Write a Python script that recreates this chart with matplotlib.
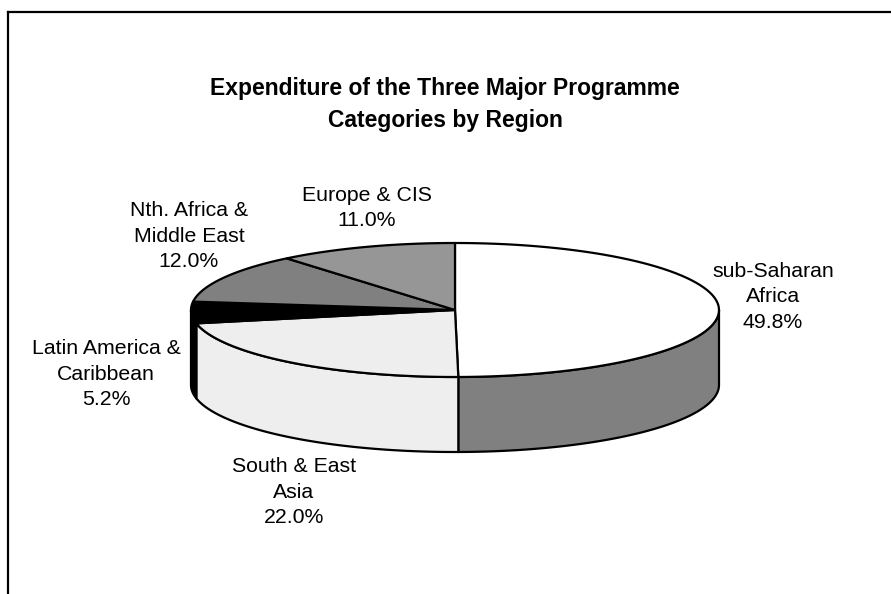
import numpy as np
import matplotlib.pyplot as plt
from matplotlib.patches import Polygon

plt.rcParams['font.family'] = ['Liberation Sans', 'DejaVu Sans']

regions = ['sub-Saharan\nAfrica', 'South & East\nAsia', 'Latin America &\nCaribbean',
           'Nth. Africa &\nMiddle East', 'Europe & CIS']
shares = [49.8, 22.0, 5.2, 12.0, 11.0]
top_colors = ['#ffffff', '#eeeeee', '#000000', '#808080', '#969696']
side_colors = ['#808080', '#eeeeee', '#000000', '#808080', '#969696']
# label anchor points in pixels
label_xy = [(773, 297), (294, 492), (106, 374), (189, 236), (367, 208)]

W, H = 891, 594
cx, cy = 455, 310
rx, ry = 264, 67
depth = 75


def arc(t0, t1, n=80):
    t = np.radians(np.linspace(t0, t1, n))
    return cx + rx * np.cos(t), cy - ry * np.sin(t)


fig = plt.figure(figsize=(W / 100, H / 100), dpi=100)
ax = fig.add_axes([0, 0, 1, 1])
ax.set_xlim(0, W)
ax.set_ylim(H, 0)
ax.axis('off')

# chart frame
ax.plot([8, W + 5], [12, 12], color='black', lw=1.6, clip_on=False)
ax.plot([8, 8], [12, H + 5], color='black', lw=1.6, clip_on=False)

total = sum(shares)
bounds = np.cumsum([0] + shares) / total * 360.0
spans = [(90 - bounds[i + 1], 90 - bounds[i]) for i in range(len(shares))]

# front walls of the disc (lower half only)
for (t1, t2), col in zip(spans, side_colors):
    for m in (-1, 0, 1):
        lo = max(t1, -180 + 360 * m)
        hi = min(t2, 360 * m)
        if hi <= lo:
            continue
        xs, ys = arc(lo, hi)
        px = np.concatenate([xs, xs[::-1]])
        py = np.concatenate([ys, ys[::-1] + depth])
        ax.add_patch(Polygon(np.column_stack([px, py]), closed=True,
                             facecolor=col, edgecolor='black', lw=1.6, joinstyle='round'))

# top faces
for (t1, t2), col in zip(spans, top_colors):
    xs, ys = arc(t2, t1)
    px = np.concatenate([[cx], xs])
    py = np.concatenate([[cy], ys])
    ax.add_patch(Polygon(np.column_stack([px, py]), closed=True,
                         facecolor=col, edgecolor='black', lw=1.6, joinstyle='round'))

for name, val, (lx, ly) in zip(regions, shares, label_xy):
    ax.text(lx, ly, f'{name}\n{val:.1f}%', ha='center', va='center',
            multialignment='center', fontsize=15.3, linespacing=1.42)

ax.text(445, 104, 'Expenditure of the Three Major Programme\nCategories by Region',
        ha='center', va='center', fontsize=16.5, fontweight='bold', linespacing=1.5)

fig.savefig('out.png', dpi=100)
